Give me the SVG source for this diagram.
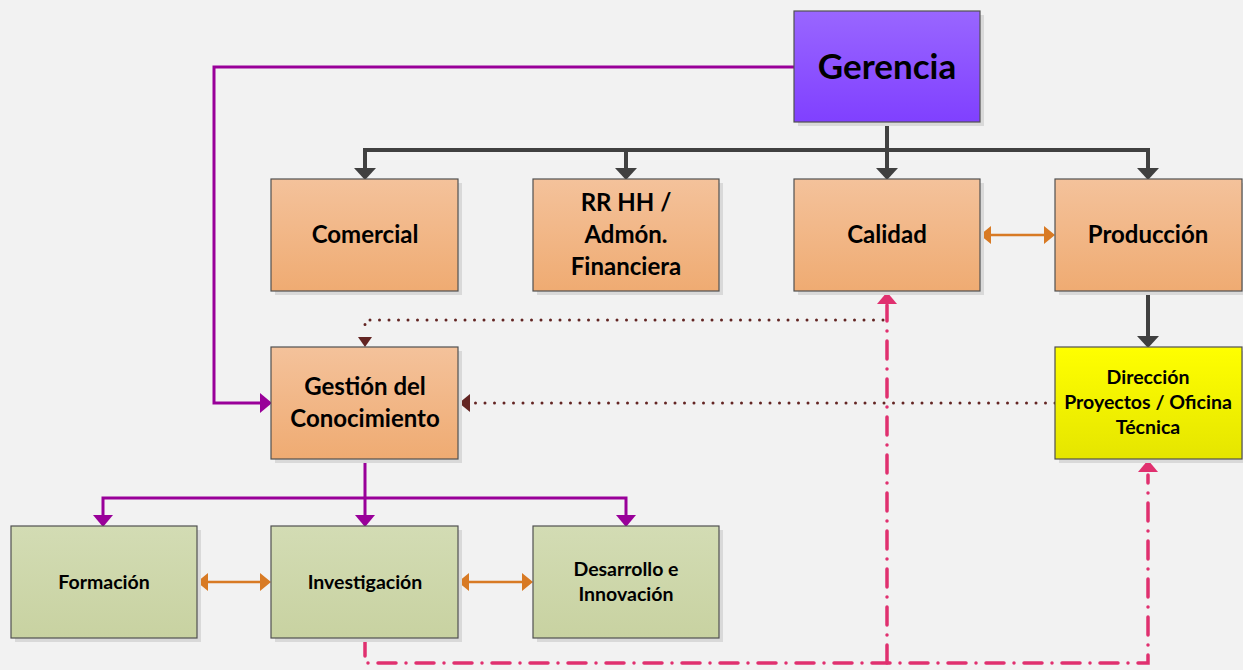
<svg xmlns="http://www.w3.org/2000/svg" width="1243" height="670" viewBox="0 0 1243 670">
<style>
.bx{stroke:#505050;stroke-width:1.2}
.sh{fill:#d9d9d9}
.t{font-family:Lato,"Liberation Sans",sans-serif;font-weight:bold;fill:#000;text-anchor:middle}
.blk{fill:none;stroke:#404040;stroke-width:4}
.pur{fill:none;stroke:#990099;stroke-width:3}
.org{fill:none;stroke:#d87a24;stroke-width:2.5}
.dot{fill:none;stroke:#632523;stroke-width:3;stroke-dasharray:0 9.5;stroke-linecap:round}
.pnk{fill:none;stroke:#e0306f;stroke-width:3.5;stroke-dasharray:18 10 0 10;stroke-linecap:round}
.hb{fill:#404040}.hp{fill:#990099}.ho{fill:#d87a24}.hd{fill:#632523}.hk{fill:#e0306f}
</style>
<defs>
<linearGradient id="gp" x1="0" y1="0" x2="0" y2="1"><stop offset="0" stop-color="#9966ff"/><stop offset="1" stop-color="#8040ff"/></linearGradient>
<linearGradient id="go" x1="0" y1="0" x2="0" y2="1"><stop offset="0" stop-color="#f4c29b"/><stop offset="1" stop-color="#efab72"/></linearGradient>
<linearGradient id="gg" x1="0" y1="0" x2="0" y2="1"><stop offset="0" stop-color="#d3dcb4"/><stop offset="1" stop-color="#c8d2a1"/></linearGradient>
<linearGradient id="gy" x1="0" y1="0" x2="0" y2="1"><stop offset="0" stop-color="#ffff00"/><stop offset="1" stop-color="#e5e500"/></linearGradient>
</defs>
<rect width="1243" height="670" fill="#f2f2f2"/>

<g id="connectors">
<path class="blk" d="M887,122V150"/>
<path class="blk" d="M365,169V150H1148V169"/>
<path class="blk" d="M626,150V169"/>
<path class="blk" d="M887,150V169"/>
<path class="hb" d="M354,168H376L365,180z"/>
<path class="hb" d="M615,168H637L626,180z"/>
<path class="hb" d="M876,168H898L887,180z"/>
<path class="hb" d="M1137,168H1159L1148,180z"/>
<path class="blk" d="M1148,291V337"/>
<path class="hb" d="M1137,336H1159L1148,348z"/>
<path class="pur" d="M794,67H214V403H261"/>
<path class="hp" d="M260,393V413L272,403z"/>
<path class="pur" d="M365,459V516"/>
<path class="pur" d="M103,516V498H626V516"/>
<path class="hp" d="M93,515H113L103,527z"/>
<path class="hp" d="M355,515H375L365,527z"/>
<path class="hp" d="M616,515H636L626,527z"/>
<path class="org" d="M990,235H1045"/>
<path class="ho" d="M991,226V244L980,235z M1044,226V244L1055,235z"/>
<path class="org" d="M207,582H261"/>
<path class="ho" d="M208,573V591L197,582z M260,573V591L271,582z"/>
<path class="org" d="M468,582H523"/>
<path class="ho" d="M469,573V591L458,582z M522,573V591L533,582z"/>
<path class="dot" d="M883,320H365V333"/>
<path class="hd" d="M358,337H372L365,347z"/>
<path class="dot" d="M1055,403H475"/>
<path class="hd" d="M470,394V412L459,403z"/>
<path class="pnk" d="M365,638V663H1148V475"/>
<path class="pnk" d="M887,663V305"/>
<path class="hk" d="M877,304H897L887,292z"/>
<path class="hk" d="M1138,472H1158L1148,460z"/>
</g>

<g id="gerencia"><rect class="sh" x="798" y="15" width="186" height="111"/><rect class="bx" x="794" y="11" width="186" height="111" fill="url(#gp)"/><text class="t" x="887" y="79" font-size="35">Gerencia</text></g>
<g id="comercial"><rect class="sh" x="275" y="183" width="187" height="112"/><rect class="bx" x="271" y="179" width="187" height="112" fill="url(#go)"/><text class="t" x="365" y="243" font-size="24">Comercial</text></g>
<g id="rrhh"><rect class="sh" x="537" y="183" width="186" height="112"/><rect class="bx" x="533" y="179" width="186" height="112" fill="url(#go)"/><text class="t" x="626" y="211" font-size="24"><tspan x="626">RR HH /</tspan><tspan x="626" dy="32">Admón.</tspan><tspan x="626" dy="32">Financiera</tspan></text></g>
<g id="calidad"><rect class="sh" x="798" y="183" width="186" height="112"/><rect class="bx" x="794" y="179" width="186" height="112" fill="url(#go)"/><text class="t" x="887" y="243" font-size="24">Calidad</text></g>
<g id="produccion"><rect class="sh" x="1059" y="183" width="187" height="112"/><rect class="bx" x="1055" y="179" width="187" height="112" fill="url(#go)"/><text class="t" x="1148" y="243" font-size="24">Producción</text></g>
<g id="gestion"><rect class="sh" x="275" y="351" width="187" height="112"/><rect class="bx" x="271" y="347" width="187" height="112" fill="url(#go)"/><text class="t" x="365" y="395" font-size="24"><tspan x="365">Gestión del</tspan><tspan x="365" dy="32">Conocimiento</tspan></text></g>
<g id="direccion"><rect class="sh" x="1059" y="351" width="187" height="112"/><rect class="bx" x="1055" y="347" width="187" height="112" fill="url(#gy)"/><text class="t" x="1148" y="384" font-size="19.5"><tspan x="1148">Dirección</tspan><tspan x="1148" dy="25">Proyectos / Oficina</tspan><tspan x="1148" dy="25">Técnica</tspan></text></g>
<g id="formacion"><rect class="sh" x="15" y="530" width="186" height="112"/><rect class="bx" x="11" y="526" width="186" height="112" fill="url(#gg)"/><text class="t" x="104" y="589" font-size="19.5">Formación</text></g>
<g id="investigacion"><rect class="sh" x="275" y="530" width="187" height="112"/><rect class="bx" x="271" y="526" width="187" height="112" fill="url(#gg)"/><text class="t" x="365" y="589" font-size="19.5">Investigación</text></g>
<g id="desarrollo"><rect class="sh" x="537" y="530" width="186" height="112"/><rect class="bx" x="533" y="526" width="186" height="112" fill="url(#gg)"/><text class="t" x="626" y="576" font-size="19.5"><tspan x="626">Desarrollo e</tspan><tspan x="626" dy="25">Innovación</tspan></text></g>
</svg>
